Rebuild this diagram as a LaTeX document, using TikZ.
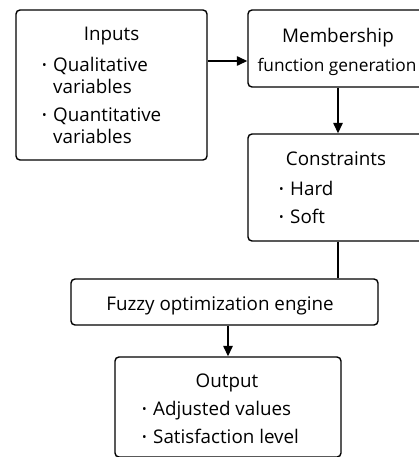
\documentclass[tikz,border=0pt]{standalone}
\usepackage{fontspec}
\usepackage{graphicx}
\setmainfont{Open Sans}
\usetikzlibrary{arrows.meta}
\tikzset{
  box/.style={draw, line width=1.4pt, rounded corners=4pt, inner sep=0pt},
  arr/.style={line width=1.4pt, -{Triangle[length=10.5pt,width=9.5pt]}},
  link/.style={line width=1.4pt},
  txt/.style={inner sep=0pt, font=\fontsize{18.8}{22}\selectfont},
}
% small bullet hung to the left of the item text
\newcommand{\bl}{\llap{\raisebox{1.6pt}{\scalebox{0.65}{\textbullet}}\hspace{6.5pt}}}
\begin{document}
\begin{tikzpicture}[x=1pt, y=-1pt]
  \useasboundingbox (0,0) rectangle (419,457);
  \begin{scope}
    \clip (0,0) rectangle (419,457);
    % boxes
    \node[box, minimum width=191pt, minimum height=150pt] (inputs) at (111.5,85) {};
    \node[box, minimum width=180pt, minimum height=77pt] (memb) at (338,48.5) {};
    \node[box, minimum width=180pt, minimum height=107pt] (cons) at (338,187.5) {};
    \node[box, minimum width=307pt, minimum height=46pt] (fuzzy) at (224.5,302) {};
    \node[box, minimum width=226pt, minimum height=100pt] (out) at (228,407) {};
  \end{scope}
  % texts
  \node[txt, anchor=base] (inputsT) at (111.5,41) {Inputs};
  \node[txt, anchor=base west] (inputsL) at (53,71.5) {%
    \begin{tabular}[t]{@{}l@{}}
      \bl Qualitative\\
          variables\\[6pt]
      \bl Quantitative\\
          variables
    \end{tabular}};
  \node[txt, anchor=base] (membT) at (338,43) {Membership};
  \node[txt, anchor=base, font=\fontsize{17.3}{22}\selectfont] (membT2) at (337,72) {function generation};
  \node[txt, anchor=base] (consT) at (336,165) {Constraints};
  \node[txt, anchor=base west] (consL) at (290,195) {%
    \begin{tabular}[t]{@{}l@{}}
      \bl Hard\\[6pt]
      \bl Soft
    \end{tabular}};
  \node[txt, anchor=base] (fuzzyT) at (220,310) {Fuzzy optimization engine};
  \node[txt, anchor=base] (outT) at (227,387) {Output};
  \node[txt, anchor=base west] (outL) at (153,415) {%
    \begin{tabular}[t]{@{}l@{}}
      \bl Adjusted values\\[6pt]
      \bl Satisfaction level
    \end{tabular}};
  % connectors
  \draw[arr] (inputs.east |- 0,61) -- (memb.west |- 0,61);
  \draw[arr] (memb.south) -- (cons.north);
  \draw[link] (cons.south) -- (fuzzy.north -| cons.south);
  \draw[arr] (fuzzy.south -| out.north) -- (out.north);
\end{tikzpicture}
\end{document}
